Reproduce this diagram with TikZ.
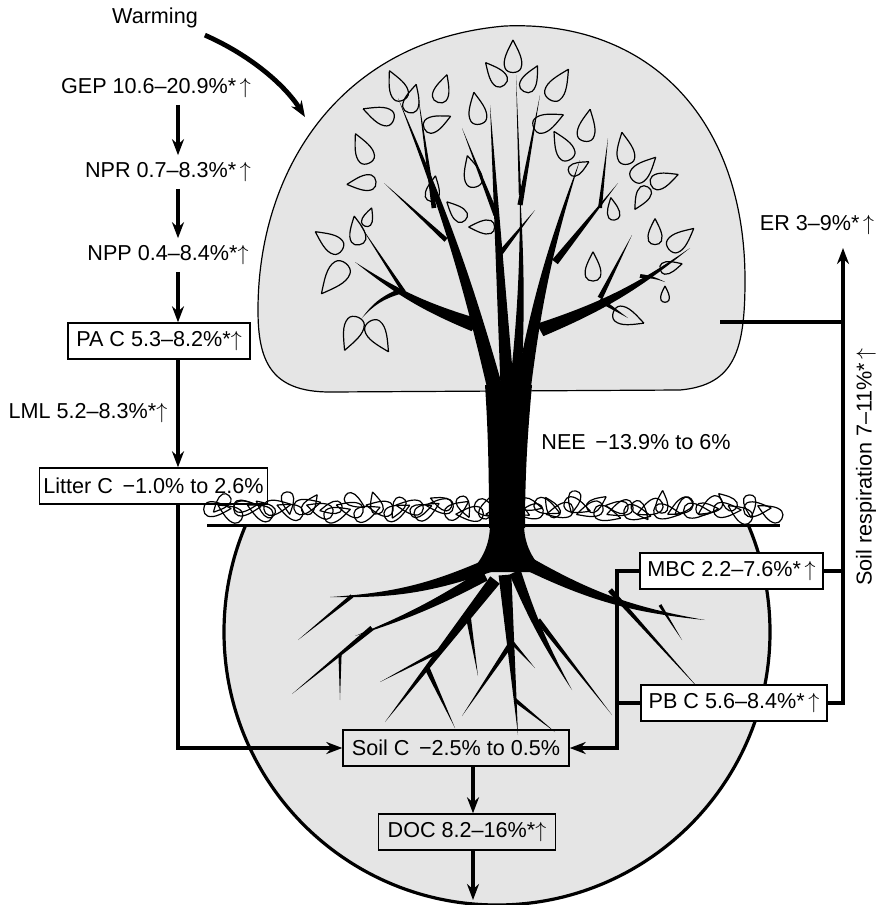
\documentclass[tikz,border=0pt]{standalone}
\usepackage{fontspec}
\setmainfont{Liberation Sans}
\usetikzlibrary{arrows.meta,calc}

\definecolor{shade}{gray}{0.9}

\tikzset{
  flow/.style={line width=2pt, -{Stealth[length=8pt,width=6pt]}},
  link/.style={line width=2pt},
  box/.style={draw, line width=0.7pt, minimum height=18pt, inner sep=2pt},
  leafline/.style={line width=0.6pt},
  leaf/.pic={\draw[leafline] (0,-18) .. controls (5,-8) and (11,2) .. (8,10) .. controls (6,16) and (-6,16) .. (-8,10) .. controls (-11,2) and (-5,-8) .. (0,-18);}
}

\newcommand{\limb}[4][0]{\fill ($(#2)!#4!90:(#3)$) to[bend left=#1] (#3) to[bend right=#1] ($(#2)!#4!-90:(#3)$) -- cycle;}
\newcommand{\up}{$\uparrow$}

\begin{document}
\begin{tikzpicture}[x=0.5pt,y=-0.5pt,font=\fontsize{10.8}{13}\selectfont]
\useasboundingbox (0,0) rectangle (878,905);

% crown and soil
\draw[fill=shade, line width=0.6pt] (330,392) .. controls (270,392) and (258,360) .. (258,310) .. controls (258,170) and (340,40) .. (505,26) .. controls (650,20) and (745,120) .. (745,280) .. controls (745,350) and (735,385) .. (680,390) -- cycle;
\begin{scope}
\clip (0,525) rectangle (878,905);
\draw[fill=shade, line width=1.6pt] (497,632) circle (273);
\end{scope}

% litter
\foreach \x [count=\i] in {216,231,...,776}
  \pic[scale=0.85, rotate={90+180*mod(\i,2)+mod(\i*37,70)-35}] at (\x,{514-mod(\i*5,9)}) {leaf};
\foreach \x [count=\i] in {222,244,...,770}
  \pic[scale=0.7, rotate={mod(\i*137,360)}] at (\x,{510-mod(\i*7,10)}) {leaf};
\draw[line width=1.5pt] (207,525) -- (780,525);

% tree
\fill (489,528) .. controls (489,470) and (488,430) .. (485,385) -- (532,385) .. controls (528,430) and (525,470) .. (525,528) -- cycle;
\fill (490,524) .. controls (490,545) and (482,560) .. (470,572) -- (545,572) .. controls (533,560) and (524,545) .. (524,524) -- cycle;
\foreach \ax/\ay/\bx/\by/\w/\k in {498/400/398/98/4/-4, 434/208/418/95/1.2/0, 446/240/384/183/1.2/0,
  475/325/355/262/3.5/8, 404/292/360/225/1/0, 398/292/362/318/1.3/-15, 508/400/490/105/3.5/0,
  496/215/462/128/1.3/0, 499/255/535/210/1.3/0, 515/395/520/190/3/-3, 520/205/540/95/1.3/0,
  520/195/516/75/0.6/0, 522/395/580/160/4/5, 555/262/618/183/1.8/0, 600/208/608/138/1/0,
  540/330/690/248/3.5/-8, 600/298/632/235/1.3/0, 600/300/628/318/1.3/0, 640/276/665/282/1/10}
  \limb[\k]{\ax,\ay}{\bx,\by}{\w pt};
\foreach \ax/\ay/\bx/\by/\w/\k in {490/565/330/597/3.5/10, 352/596/298/640/1/0, 485/575/355/636/3/5,
  372/628/292/694/1.3/0, 340/654/340/700/0.8/0, 495/580/385/722/3/0, 441/650/380/682/1/0,
  427/668/455/728/1.3/0, 468/615/478/676/1.3/0, 505/575/518/735/3.2/0, 510/645/462/716/1.3/0,
  510/640/535/668/1/0, 515/700/555/732/1/0, 515/572/572/690/3/-5, 538/620/612/715/1.3/0,
  525/562/705/620/3.5/-10, 660/605/682/640/0.8/0, 610/590/700/690/1.3/0}
  \limb[\k]{\ax,\ay}{\bx,\by}{\w pt};
\foreach \x/\y/\r/\s in {513/58/0/1, 496/75/40/0.9, 530/80/-28/0.9, 558/86/-32/1.1, 547/122/-66/1,
  477/110/10/1, 397/87/25/1, 412/100/-15/0.9, 442/90/-18/0.9, 380/115/70/1, 436/123/-65/0.9,
  363/150/25/1, 363/183/95/0.9, 433/190/-10/0.8, 472/173/15/1, 457/212/45/0.8, 483/227/90/0.8,
  587/127/-10/1, 563/147/30/1, 578/168/-60/0.7, 625/150/10/1, 643/170/-45/1, 663/180/-70/0.9,
  642/197/150/0.8, 613/210/10/0.7, 655/233/0/0.8, 680/240/-50/1, 670/267/-75/0.7, 665/295/0/0.5,
  627/317/-110/1, 593/268/0/0.9, 357/232/10/0.9, 368/218/-20/0.6, 330/242/55/1, 335/277/141/1.2,
  352/332/158/1.1, 378/335/-148/1.1}
  \pic[scale=\s, rotate=\r] at (\x,\y) {leaf};

% labels
\node (warming) at (155,18) {Warming};
\node (gep) at (156,88) {GEP 10.6–20.9\%*\,\up};
\node (npr) at (168,172) {NPR 0.7–8.3\%*\,\up};
\node (npp) at (168,255) {NPP 0.4–8.4\%*\up};
\node[box, minimum width=91pt] (pac) at (159,341) {PA C 5.3–8.2\%*\up};
\node (lml) at (88,413) {LML 5.2–8.3\%*\up};
\node[box, minimum width=113.5pt] (litter) at (153.5,486) {Litter C \,−1.0\% to 2.6\%};
\node (nee) at (636,442) {NEE \,−13.9\% to 6\%};
\node[box, minimum width=113pt] (soilc) at (456,748) {Soil C \,−2.5\% to 0.5\%};
\node[box, minimum width=88.5pt] (doc) at (467,832) {DOC 8.2–16\%*\up};
\node[box, fill=white, minimum width=91.5pt] (mbc) at (731.5,571) {MBC 2.2–7.6\%*\,\up};
\node[box, fill=white, minimum width=93pt] (pbc) at (734,703) {PB C 5.6–8.4\%*\,\up};
\node (er) at (817,225) {ER 3–9\%*\,\up};
\node[rotate=90] (soilresp) at (866,467) {Soil respiration 7–11\%*\,\up};

\coordinate (col) at (178,0);
\coordinate (dcol) at (473,0);
\coordinate (lcol) at (617,0);
\coordinate (rcol) at (843,0);
\coordinate (crown) at (720,322);
\coordinate (ertip) at (843,248);
\coordinate (leach) at (473,900);
\coordinate (canopy) at (305,117);

% fluxes
\draw[flow, line width=2.4pt] (warming.south east) .. controls (250,55) and (285,85) .. (canopy);
\draw[flow] (gep.south -| col) -- (npr.north -| col);
\draw[flow] (npr.south -| col) -- (npp.north -| col);
\draw[flow] (npp.south -| col) -- (pac.north -| col);
\draw[flow] (pac.south -| col) -- (litter.north -| col);
\draw[flow] (litter.south -| col) |- (soilc.west);
\draw[flow] (soilc.south -| dcol) -- (doc.north -| dcol);
\draw[flow] (doc.south -| dcol) -- (leach);
\draw[flow] (mbc.west) -- (mbc.west -| lcol) |- (soilc.east);
\draw[link] (pbc.west) -- (pbc.west -| lcol);
\draw[flow] (pbc.east) -| (ertip);
\draw[link] (mbc.east) -- (mbc.east -| rcol);
\draw[link] (crown) -- (crown -| rcol);
\end{tikzpicture}
\end{document}
